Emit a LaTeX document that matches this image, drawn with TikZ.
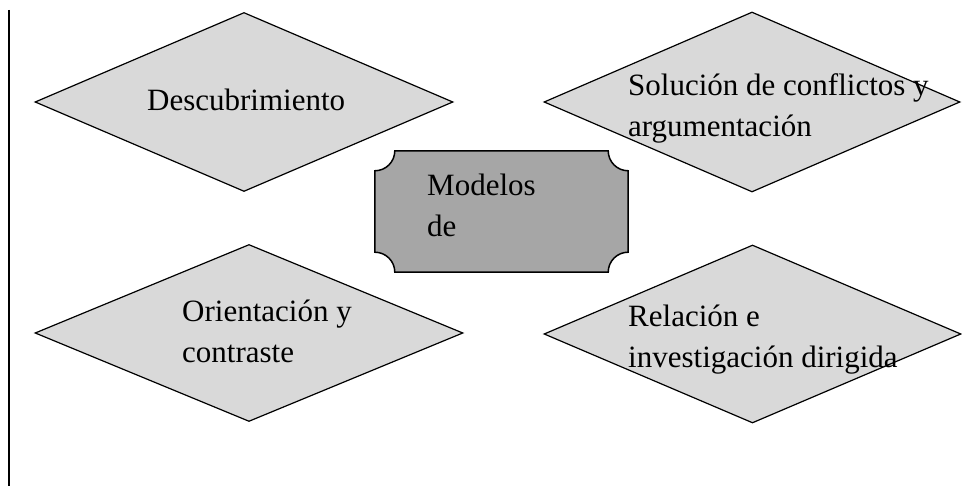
\documentclass[tikz,border=0pt]{standalone}
\usepackage{fontspec}
\setmainfont{Liberation Serif}
\usetikzlibrary{shapes.geometric}

\definecolor{lightgr}{HTML}{D9D9D9}
\definecolor{midgr}{HTML}{A6A6A6}

\tikzset{
  diam/.style={diamond, draw, fill=lightgr, line width=1.2pt, inner sep=0pt},
  plaque/.style={draw, fill=midgr, line width=1.5pt},
  label/.style={anchor=base west, inner sep=0pt, align=left,
    font=\fontsize{31}{41}\selectfont}
}

\begin{document}
\begin{tikzpicture}[x=1pt, y=1pt]
      \useasboundingbox (0, 0) rectangle (962, 486);
      \draw[line width=2pt] (8.5, 476) -- (8.5, 0);
      % the four diamonds
      \node (desc) [diam, minimum width=418pt, minimum height=179pt] at (244, 384) {};
      \node (sol) [diam, minimum width=416pt, minimum height=180pt] at (752, 384) {};
      \node (ori) [diam, minimum width=428pt, minimum height=177pt] at (249, 153) {};
      \node (rel) [diam, minimum width=417pt, minimum height=178pt] at (752.5, 152) {};
      % middle plaque
      \node (mod) [minimum width=253pt, minimum height=121pt] at (501.5, 274.5) {};
      \draw[plaque] ([yshift=-20pt]mod.north west) arc[start angle=270, end angle=360, radius=20pt]
        -- ([xshift=-20pt]mod.north east) arc[start angle=180, end angle=270, radius=20pt]
        -- ([yshift=20pt]mod.south east) arc[start angle=90, end angle=180, radius=20pt]
        -- ([xshift=20pt]mod.south west) arc[start angle=0, end angle=90, radius=20pt]
        -- cycle;
      % texts (base = last line)
      \node (desc text) [label] at (147, 375) {Descubrimiento};
      \node (sol text) [label] at (628, 349) {Solución de conflictos y\\argumentación};
      \node (mod text) [label] at (427, 249) {Modelos\\de};
      \node (ori text) [label] at (182, 123) {Orientación y\\contraste};
      \node (rel text) [label] at (628, 118) {Relación e\\investigación dirigida};
\end{tikzpicture}
\end{document}
